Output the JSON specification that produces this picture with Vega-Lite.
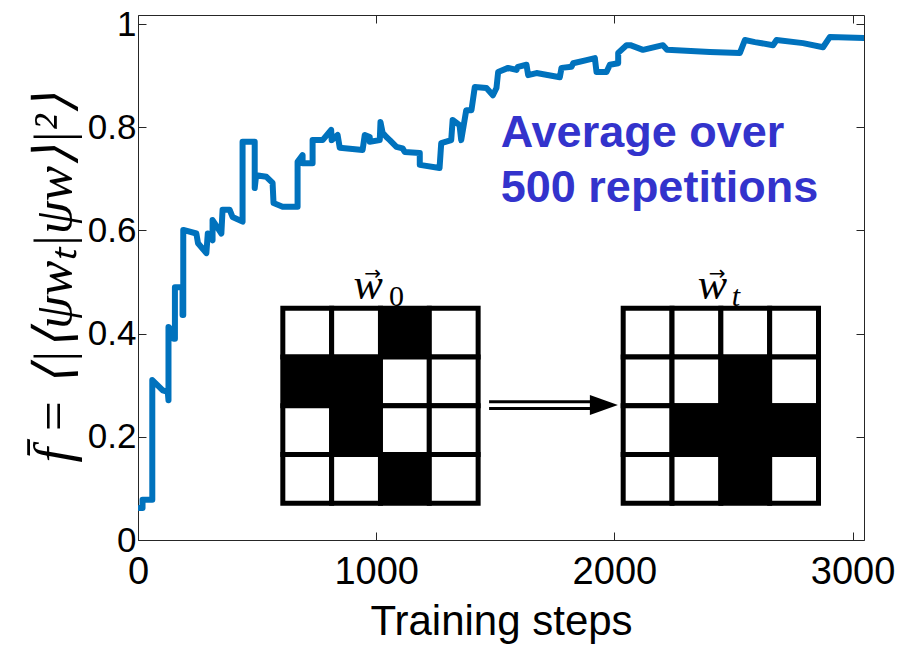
{
  "$schema": "https://vega.github.io/schema/vega-lite/v6.json",
  "width": 726,
  "height": 525,
  "autosize": "none",
  "padding": {"left": 138, "top": 15, "right": 33, "bottom": 116},
  "background": "white",
  "config": {
    "view": {"stroke": "#262626", "strokeWidth": 1},
    "axis": {"domain": false, "grid": false, "tickColor": "#262626", "tickWidth": 1, "labelColor": "#000", "titleColor": "#000", "labelFont": "Liberation Sans", "titleFont": "Liberation Sans"}
  },
  "datasets": {
    "curve": [
      {"i":1,"step":6,"f":0.062},{"i":2,"step":19,"f":0.062},{"i":3,"step":19,"f":0.078},{"i":4,"step":60,"f":0.078},{"i":5,"step":60,"f":0.31},{"i":6,"step":104,"f":0.29},{"i":7,"step":125,"f":0.287},{"i":8,"step":128,"f":0.271},{"i":9,"step":128,"f":0.413},{"i":10,"step":145,"f":0.405},{"i":11,"step":150,"f":0.39},{"i":12,"step":155,"f":0.39},{"i":13,"step":155,"f":0.49},{"i":14,"step":187,"f":0.49},{"i":15,"step":187,"f":0.436},{"i":16,"step":190,"f":0.436},{"i":17,"step":190,"f":0.601},
      {"i":18,"step":245,"f":0.594},{"i":19,"step":252,"f":0.575},{"i":20,"step":287,"f":0.556},{"i":21,"step":293,"f":0.594},{"i":22,"step":313,"f":0.581},{"i":23,"step":313,"f":0.62},{"i":24,"step":350,"f":0.594},{"i":25,"step":355,"f":0.64},{"i":26,"step":385,"f":0.64},{"i":27,"step":397,"f":0.626},{"i":28,"step":439,"f":0.617},{"i":29,"step":439,"f":0.772},{"i":30,"step":490,"f":0.772},{"i":31,"step":490,"f":0.682},{"i":32,"step":496,"f":0.707},{"i":33,"step":539,"f":0.704},{"i":34,"step":565,"f":0.692},{"i":35,"step":569,"f":0.653},{"i":36,"step":607,"f":0.646},{"i":37,"step":670,"f":0.646},{"i":38,"step":670,"f":0.733},{"i":39,"step":691,"f":0.746},{"i":40,"step":691,"f":0.73},{"i":41,"step":733,"f":0.73},{"i":42,"step":733,"f":0.775},{"i":43,"step":775,"f":0.775},{"i":44,"step":811,"f":0.795},{"i":45,"step":813,"f":0.775},{"i":46,"step":838,"f":0.785},{"i":47,"step":847,"f":0.76},{"i":48,"step":943,"f":0.756},{"i":49,"step":952,"f":0.785},{"i":50,"step":973,"f":0.781},{"i":51,"step":973,"f":0.772},{"i":52,"step":1015,"f":0.775},{"i":53,"step":1018,"f":0.81},{"i":54,"step":1027,"f":0.789},{"i":55,"step":1043,"f":0.781},{"i":56,"step":1057,"f":0.775},{"i":57,"step":1085,"f":0.762},{"i":58,"step":1111,"f":0.759},{"i":59,"step":1120,"f":0.752},{"i":60,"step":1183,"f":0.75},{"i":61,"step":1183,"f":0.727},{"i":62,"step":1266,"f":0.721},{"i":63,"step":1273,"f":0.769},{"i":64,"step":1315,"f":0.775},{"i":65,"step":1321,"f":0.814},{"i":66,"step":1350,"f":0.804},{"i":67,"step":1357,"f":0.775},{"i":68,"step":1378,"f":0.833},{"i":69,"step":1400,"f":0.833},{"i":70,"step":1414,"f":0.878},{"i":71,"step":1463,"f":0.876},{"i":72,"step":1490,"f":0.862},{"i":73,"step":1505,"f":0.876},{"i":74,"step":1512,"f":0.907},{"i":75,"step":1554,"f":0.915},{"i":76,"step":1589,"f":0.911},{"i":77,"step":1595,"f":0.917},{"i":78,"step":1631,"f":0.921},{"i":79,"step":1638,"f":0.901},{"i":80,"step":1673,"f":0.905},{"i":81,"step":1771,"f":0.897},{"i":82,"step":1778,"f":0.915},{"i":83,"step":1820,"f":0.917},{"i":84,"step":1827,"f":0.924},{"i":85,"step":1883,"f":0.93},{"i":86,"step":1918,"f":0.934},{"i":87,"step":1925,"f":0.907},{"i":88,"step":1967,"f":0.907},{"i":89,"step":1981,"f":0.921},{"i":90,"step":2016,"f":0.924},{"i":91,"step":2016,"f":0.944},{"i":92,"step":2051,"f":0.959},{"i":93,"step":2067,"f":0.959},{"i":94,"step":2120,"f":0.95},{"i":95,"step":2204,"f":0.959},{"i":96,"step":2221,"f":0.95},{"i":97,"step":2401,"f":0.946},{"i":98,"step":2527,"f":0.944},{"i":99,"step":2548,"f":0.969},{"i":100,"step":2590,"f":0.965},{"i":101,"step":2666,"f":0.959},{"i":102,"step":2681,"f":0.969},{"i":103,"step":2792,"f":0.963},{"i":104,"step":2876,"f":0.955},{"i":105,"step":2905,"f":0.975},{"i":106,"step":3048,"f":0.973}
    ],
    "cells": [
      {"g":"w0","x0":608,"x1":813,"y0":0.449,"y1":0.3545,"v":"W"},{"g":"w0","x0":813,"x1":1018,"y0":0.449,"y1":0.3545,"v":"W"},{"g":"w0","x0":1018,"x1":1223,"y0":0.449,"y1":0.3545,"v":"B"},{"g":"w0","x0":1223,"x1":1428,"y0":0.449,"y1":0.3545,"v":"W"},
      {"g":"w0","x0":608,"x1":813,"y0":0.3545,"y1":0.26,"v":"B"},{"g":"w0","x0":813,"x1":1018,"y0":0.3545,"y1":0.26,"v":"B"},{"g":"w0","x0":1018,"x1":1223,"y0":0.3545,"y1":0.26,"v":"W"},{"g":"w0","x0":1223,"x1":1428,"y0":0.3545,"y1":0.26,"v":"W"},
      {"g":"w0","x0":608,"x1":813,"y0":0.26,"y1":0.1655,"v":"W"},{"g":"w0","x0":813,"x1":1018,"y0":0.26,"y1":0.1655,"v":"B"},{"g":"w0","x0":1018,"x1":1223,"y0":0.26,"y1":0.1655,"v":"W"},{"g":"w0","x0":1223,"x1":1428,"y0":0.26,"y1":0.1655,"v":"W"},
      {"g":"w0","x0":608,"x1":813,"y0":0.1655,"y1":0.071,"v":"W"},{"g":"w0","x0":813,"x1":1018,"y0":0.1655,"y1":0.071,"v":"W"},{"g":"w0","x0":1018,"x1":1223,"y0":0.1655,"y1":0.071,"v":"B"},{"g":"w0","x0":1223,"x1":1428,"y0":0.1655,"y1":0.071,"v":"W"},
      {"g":"wt","x0":2037,"x1":2242,"y0":0.449,"y1":0.3545,"v":"W"},{"g":"wt","x0":2242,"x1":2447,"y0":0.449,"y1":0.3545,"v":"W"},{"g":"wt","x0":2447,"x1":2652,"y0":0.449,"y1":0.3545,"v":"W"},{"g":"wt","x0":2652,"x1":2857,"y0":0.449,"y1":0.3545,"v":"W"},
      {"g":"wt","x0":2037,"x1":2242,"y0":0.3545,"y1":0.26,"v":"W"},{"g":"wt","x0":2242,"x1":2447,"y0":0.3545,"y1":0.26,"v":"W"},{"g":"wt","x0":2447,"x1":2652,"y0":0.3545,"y1":0.26,"v":"B"},{"g":"wt","x0":2652,"x1":2857,"y0":0.3545,"y1":0.26,"v":"W"},
      {"g":"wt","x0":2037,"x1":2242,"y0":0.26,"y1":0.1655,"v":"W"},{"g":"wt","x0":2242,"x1":2447,"y0":0.26,"y1":0.1655,"v":"B"},{"g":"wt","x0":2447,"x1":2652,"y0":0.26,"y1":0.1655,"v":"B"},{"g":"wt","x0":2652,"x1":2857,"y0":0.26,"y1":0.1655,"v":"B"},
      {"g":"wt","x0":2037,"x1":2242,"y0":0.1655,"y1":0.071,"v":"W"},{"g":"wt","x0":2242,"x1":2447,"y0":0.1655,"y1":0.071,"v":"W"},{"g":"wt","x0":2447,"x1":2652,"y0":0.1655,"y1":0.071,"v":"B"},{"g":"wt","x0":2652,"x1":2857,"y0":0.1655,"y1":0.071,"v":"W"}
    ]
  },
  "layer": [
    {
      "data": {"name": "cells"},
      "mark": {"type": "rect", "stroke": "black", "strokeWidth": 5},
      "encoding": {
        "x": {"field": "x0", "type": "quantitative", "scale": {"domain": [0, 3048], "nice": false, "zero": false}, "axis": {"orient": "bottom", "values": [0, 1000, 2000, 3000], "format": "d", "tickSize": -8, "labelFontSize": 38, "labelPadding": 21, "labelFlush": false, "labelOverlap": false, "title": "Training steps", "titleFontSize": 42, "titleFontWeight": "normal", "titlePadding": 10}},
        "x2": {"field": "x1"},
        "y": {"field": "y0", "type": "quantitative", "scale": {"domain": [0, 1.0175], "nice": false}, "axis": {"orient": "left", "values": [0, 0.2, 0.4, 0.6, 0.8, 1], "format": "~g", "tickSize": -8, "labelFontSize": 35, "labelPadding": 10, "labelFlush": false, "labelOverlap": false, "title": "f̄ = ⟨|⟨ψwₜ|ψw⟩|²⟩", "titleFont": "Liberation Serif", "titleFontStyle": "italic", "titleFontSize": 53, "titleFontWeight": "normal", "titlePadding": 6}},
        "y2": {"field": "y1"},
        "fill": {"field": "v", "type": "nominal", "scale": {"domain": ["B", "W"], "range": ["black", "white"]}, "legend": null}
      }
    },
    {
      "data": {"values": [{"x0": 1474, "x1": 1910, "y": 0.268}, {"x0": 1474, "x1": 1910, "y": 0.255}]},
      "mark": {"type": "rule", "strokeWidth": 3, "color": "black"},
      "encoding": {
        "x": {"field": "x0", "type": "quantitative", "axis": null},
        "x2": {"field": "x1"},
        "y": {"field": "y", "type": "quantitative", "axis": null}
      }
    },
    {
      "data": {"values": [{"x": 1956, "y": 0.2615}]},
      "mark": {"type": "point", "shape": "M-1,-0.714L1,0L-1,0.714Z", "size": 784, "filled": true, "color": "black", "opacity": 1},
      "encoding": {
        "x": {"field": "x", "type": "quantitative", "axis": {"orient": "top", "values": [0, 1000, 2000, 3000], "labels": false, "tickSize": -8, "title": null}},
        "y": {"field": "y", "type": "quantitative", "axis": {"orient": "right", "values": [0, 0.2, 0.4, 0.6, 0.8, 1], "labels": false, "tickSize": -8, "title": null}}
      }
    },
    {
      "data": {"values": [{"x": 966, "y": 0.467, "t": "w"}, {"x": 2412, "y": 0.467, "t": "w"}]},
      "mark": {"type": "text", "font": "Liberation Serif", "fontStyle": "italic", "fontSize": 44, "baseline": "alphabetic", "align": "center", "color": "black"},
      "encoding": {
        "x": {"field": "x", "type": "quantitative", "axis": null},
        "y": {"field": "y", "type": "quantitative", "axis": null},
        "text": {"field": "t", "type": "nominal"}
      }
    },
    {
      "data": {"values": [{"x": 1085, "y": 0.4535, "t": "0"}]},
      "mark": {"type": "text", "font": "Liberation Serif", "fontSize": 30, "baseline": "alphabetic", "align": "center", "color": "black"},
      "encoding": {
        "x": {"field": "x", "type": "quantitative", "axis": null},
        "y": {"field": "y", "type": "quantitative", "axis": null},
        "text": {"field": "t", "type": "nominal"}
      }
    },
    {
      "data": {"values": [{"x": 2510, "y": 0.4535, "t": "t"}]},
      "mark": {"type": "text", "font": "Liberation Serif", "fontStyle": "italic", "fontSize": 30, "baseline": "alphabetic", "align": "center", "color": "black"},
      "encoding": {
        "x": {"field": "x", "type": "quantitative", "axis": null},
        "y": {"field": "y", "type": "quantitative", "axis": null},
        "text": {"field": "t", "type": "nominal"}
      }
    },
    {
      "data": {"values": [{"x": 985, "y": 0.515, "t": "→"}, {"x": 2431, "y": 0.515, "t": "→"}]},
      "mark": {"type": "text", "font": "DejaVu Sans", "fontSize": 20, "baseline": "middle", "align": "center", "color": "black"},
      "encoding": {
        "x": {"field": "x", "type": "quantitative", "axis": null},
        "y": {"field": "y", "type": "quantitative", "axis": null},
        "text": {"field": "t", "type": "nominal"}
      }
    },
    {
      "data": {"values": [{"x": 1523, "y": 0.762}]},
      "mark": {"type": "text", "text": ["Average over", "500 repetitions"], "align": "left", "baseline": "alphabetic", "lineHeight": 55, "fontSize": 45, "fontWeight": "bold", "font": "Liberation Sans", "color": "#3333CC"},
      "encoding": {
        "x": {"field": "x", "type": "quantitative", "axis": null},
        "y": {"field": "y", "type": "quantitative", "axis": null}
      }
    },
    {
      "data": {"name": "curve"},
      "mark": {"type": "line", "color": "#0072BD", "strokeWidth": 6, "strokeJoin": "round", "strokeCap": "round", "clip": true},
      "encoding": {
        "x": {"field": "step", "type": "quantitative", "axis": null},
        "y": {"field": "f", "type": "quantitative", "axis": null},
        "order": {"field": "i", "type": "quantitative"}
      }
    }
  ],
  "resolve": {"axis": {"x": "independent", "y": "independent"}}
}
